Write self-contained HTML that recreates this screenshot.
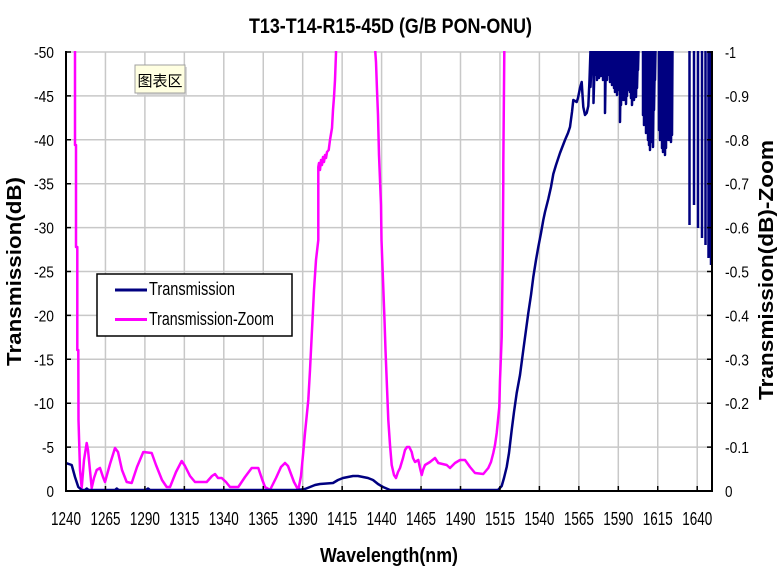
<!DOCTYPE html>
<html><head><meta charset="utf-8"><style>
html,body{margin:0;padding:0;background:#fff;}
svg{display:block;}
text{font-family:"Liberation Sans",Arial,sans-serif;fill:#000;}
</style></head><body>
<svg width="781" height="570" viewBox="0 0 781 570" xmlns="http://www.w3.org/2000/svg">
<defs><clipPath id="pc"><rect x="66" y="51" width="646" height="441"/></clipPath></defs>
<rect width="781" height="570" fill="#fff"/>
<!-- grid -->
<g stroke="#c8c8c8" stroke-width="1.5">
<line x1="105.45" y1="52" x2="105.45" y2="491"/><line x1="144.9" y1="52" x2="144.9" y2="491"/><line x1="184.35" y1="52" x2="184.35" y2="491"/><line x1="223.8" y1="52" x2="223.8" y2="491"/><line x1="263.25" y1="52" x2="263.25" y2="491"/><line x1="302.7" y1="52" x2="302.7" y2="491"/><line x1="342.15" y1="52" x2="342.15" y2="491"/><line x1="381.6" y1="52" x2="381.6" y2="491"/><line x1="421.05" y1="52" x2="421.05" y2="491"/><line x1="460.5" y1="52" x2="460.5" y2="491"/><line x1="499.95" y1="52" x2="499.95" y2="491"/><line x1="539.4" y1="52" x2="539.4" y2="491"/><line x1="578.85" y1="52" x2="578.85" y2="491"/><line x1="618.3" y1="52" x2="618.3" y2="491"/><line x1="657.75" y1="52" x2="657.75" y2="491"/><line x1="697.2" y1="52" x2="697.2" y2="491"/>
<line x1="66" y1="447.1" x2="712" y2="447.1"/><line x1="66" y1="403.2" x2="712" y2="403.2"/><line x1="66" y1="359.3" x2="712" y2="359.3"/><line x1="66" y1="315.4" x2="712" y2="315.4"/><line x1="66" y1="271.5" x2="712" y2="271.5"/><line x1="66" y1="227.6" x2="712" y2="227.6"/><line x1="66" y1="183.7" x2="712" y2="183.7"/><line x1="66" y1="139.8" x2="712" y2="139.8"/><line x1="66" y1="95.9" x2="712" y2="95.9"/><line x1="66" y1="52" x2="712" y2="52"/>
</g>
<g clip-path="url(#pc)" fill="none" stroke-linejoin="round">
<!-- pink -->
<path stroke="#ff00ff" stroke-width="2.5" d="M75,50 L75,145 L76,145 L76,247 L77.3,247 L77.3,350 L78.3,350 L78.5,420 L80,470 L81.7,488 L84,460 L86.7,443 L88,450 L91.7,488 L94,478 L96.7,470 L100,468 L103,477 L105,482 L110,464 L115,448 L118,452 L122,470 L126.7,482 L131.7,483 L137,467 L143.3,452 L151.7,453 L156,465 L162,480 L166.7,487 L170,487 L176,472 L181.7,461 L185,466 L190,476 L195,482 L206.7,482 L212,476 L215,474 L218,478 L221.7,478 L226,482 L230,487 L238.3,487 L245,477 L251.7,468 L258.3,468 L262,479 L265,487 L270,490 L276,478 L281,467 L285,463 L288,466 L294,482 L298.3,490 L301,476 L303,455 L305,433 L308.3,400 L310,370 L312,330 L314,290 L316,260 L318.3,240 L318.3,167 L319,163 L320,170 L321,160 L322,165 L323,157 L324,162 L325,155 L326,158 L327,152 L328.7,150 L330,140 L332,128 L333,110 L334,97 L335,80 L336,53 L336,48"/>
<path stroke="#ff00ff" stroke-width="2.5" d="M375.3,48 L375.3,52 L376,62 L377,90 L378,115 L379,155 L381,205 L381.5,240 L383,280 L384.5,320 L385.5,350 L386.7,380 L388.3,420 L390,445 L391.7,465 L394,475 L396,478 L398,472 L400,468 L403,458 L405,450 L407,447 L409.3,447 L411.7,452 L413,458 L415,462 L418.3,460 L420,468 L421.7,475 L423,470 L425,465 L430,462 L435,458 L438.3,463 L446.7,465 L450,468 L455,463 L460,460 L465,460 L470,467 L475,473 L483.3,474 L488.3,468 L491,462 L493.3,453 L495,445 L496.7,433 L499.3,407 L500,380 L501.7,337 L502.7,258 L503.3,180 L503.3,165 L504.3,52 L504.3,48"/>
<!-- blue -->
<path stroke="#000080" stroke-width="2.5" d="M66,463 L71.7,465 L75,477 L78.3,487 L81.7,490 L85,490 L86.7,488.5 L88.5,490 L115,490 L116.7,488.5 L118.5,490 L146,490 L148,488.5 L150,490 L298,490 L305,489 L310,487 L315,485 L320,484 L333,483 L338,480 L343,478 L348,477 L353,476 L358,476 L363,477 L368,478 L373,480 L378,484 L383,487 L390,490 L498,490 L501.7,486 L504,478 L506.7,467 L509,453 L511.7,430 L514,412 L516.7,393 L520,375 L523.3,350 L526,330 L528.3,313 L531,295 L533.3,277 L536,260 L538.3,247 L541,233 L543.3,220 L545,212 L548.3,199 L551,187 L553.3,174 L556,165 L560,153 L565,140 L568,133 L570,127 L572,112 L573.3,100 L576.7,102 L578,98 L580,88 L581.7,82 L582.5,95 L583.3,107 L585,115 L586.7,113 L588.3,106 L589.5,80
L590.5,50 L590.5,87 L592,50 L592,70 L593.5,50 L593.5,103 L595,50 L595,75 L596,50 L596,65 L597,50 L597,80 L598,50 L598,72 L599,50 L599,78 L600,50 L600,70 L601,50 L601,76 L602,50 L602,68 L603,50 L603,80 L604,50 L604,62 L605,50 L605,113 L606,50 L606,58 L607,50 L607,80 L608,50 L608,75 L609,50 L609,70 L610,50 L610,82 L611,50 L611,60 L612,50 L612,85 L613,50 L613,80 L614,50 L614,88 L615,50 L615,92 L616,50 L616,85 L617,50 L617,95 L618,50 L618,88 L619,50 L619,90 L620,50 L620,122 L621,50 L621,105 L622,50 L622,100 L623,50 L623,95 L624,50 L624,100 L625,50 L625,98 L626,50 L626,104 L627,50 L627,96 L628,50 L628,90 L629,50 L629,60 L630,50 L630,92 L631,50 L631,98 L632,50 L632,105 L633,50 L633,95 L634,50 L634,100 L635,50 L635,92 L636,50 L636,97 L637,50 L637,88 L638,50 L638,70 L638.5,50
M643,50 L643,115 L644,50 L644,125 L645,50 L645,120 L646,50 L646,133 L647,50 L647,128 L648,50 L648,140 L649,50 L649,145 L650,50 L650,150 L651,50 L651,138 L652,50 L652,142 L653,50 L653,147 L654,50 L654,110 L655,50 L655,80 L655.5,50
M659,50 L659,130 L660,50 L660,140 L661,50 L661,135 L662,50 L662,148 L663,50 L663,152 L664,50 L664,145 L665,50 L665,155 L666,50 L666,148 L667,50 L667,140 L668,50 L668,132 L669,50 L669,140 L670,50 L670,138 L671,50 L671,142 L672,50 L672,135 L672.5,50
M689.5,50 L689.5,225 M694,50 L694,205 M698,50 L698,228 M702,50 L702,238 M705.5,50 L705.5,245 M708.5,50 L708.5,258 M711,50 L711,265"/>
</g>
<!-- axes -->
<g stroke="#000" stroke-width="2">
<line x1="66" y1="51" x2="66" y2="492"/>
<line x1="65" y1="491" x2="713" y2="491"/>
<line x1="712" y1="51" x2="712" y2="492"/>
</g>
<g stroke="#000" stroke-width="1.5">
<path d="M66,447.1h5M66,403.2h5M66,359.3h5M66,315.4h5M66,271.5h5M66,227.6h5M66,183.7h5M66,139.8h5M66,95.9h5M66,52h5"/>
<path d="M712,447.1h-5M712,403.2h-5M712,359.3h-5M712,315.4h-5M712,271.5h-5M712,227.6h-5M712,183.7h-5M712,139.8h-5M712,95.9h-5M712,52h-5"/>
<path d="M105.45,491v-5M144.9,491v-5M184.35,491v-5M223.8,491v-5M263.25,491v-5M302.7,491v-5M342.15,491v-5M381.6,491v-5M421.05,491v-5M460.5,491v-5M499.95,491v-5M539.4,491v-5M578.85,491v-5M618.3,491v-5M657.75,491v-5M697.2,491v-5"/>
</g>
<!-- title -->
<text x="249" y="33" font-size="21" font-weight="bold" textLength="283" lengthAdjust="spacingAndGlyphs">T13-T14-R15-45D (G/B PON-ONU)</text>
<!-- left labels -->
<g font-size="16" text-anchor="end">
<text x="54" y="58" textLength="20" lengthAdjust="spacingAndGlyphs">-50</text>
<text x="54" y="101.9" textLength="20" lengthAdjust="spacingAndGlyphs">-45</text>
<text x="54" y="145.8" textLength="20" lengthAdjust="spacingAndGlyphs">-40</text>
<text x="54" y="189.7" textLength="20" lengthAdjust="spacingAndGlyphs">-35</text>
<text x="54" y="233.6" textLength="20" lengthAdjust="spacingAndGlyphs">-30</text>
<text x="54" y="277.5" textLength="20" lengthAdjust="spacingAndGlyphs">-25</text>
<text x="54" y="321.4" textLength="20" lengthAdjust="spacingAndGlyphs">-20</text>
<text x="54" y="365.3" textLength="20" lengthAdjust="spacingAndGlyphs">-15</text>
<text x="54" y="409.2" textLength="20" lengthAdjust="spacingAndGlyphs">-10</text>
<text x="54" y="453.1" textLength="12" lengthAdjust="spacingAndGlyphs">-5</text>
<text x="54" y="497" textLength="7.5" lengthAdjust="spacingAndGlyphs">0</text>
</g>
<!-- right labels -->
<g font-size="16">
<text x="725" y="58" textLength="11" lengthAdjust="spacingAndGlyphs">-1</text>
<text x="725" y="101.9" textLength="24" lengthAdjust="spacingAndGlyphs">-0.9</text>
<text x="725" y="145.8" textLength="24" lengthAdjust="spacingAndGlyphs">-0.8</text>
<text x="725" y="189.7" textLength="24" lengthAdjust="spacingAndGlyphs">-0.7</text>
<text x="725" y="233.6" textLength="24" lengthAdjust="spacingAndGlyphs">-0.6</text>
<text x="725" y="277.5" textLength="24" lengthAdjust="spacingAndGlyphs">-0.5</text>
<text x="725" y="321.4" textLength="24" lengthAdjust="spacingAndGlyphs">-0.4</text>
<text x="725" y="365.3" textLength="24" lengthAdjust="spacingAndGlyphs">-0.3</text>
<text x="725" y="409.2" textLength="24" lengthAdjust="spacingAndGlyphs">-0.2</text>
<text x="725" y="453.1" textLength="24" lengthAdjust="spacingAndGlyphs">-0.1</text>
<text x="725" y="497" textLength="7.5" lengthAdjust="spacingAndGlyphs">0</text>
</g>
<!-- x labels -->
<g font-size="18" text-anchor="middle">
<text x="66" y="525" textLength="30" lengthAdjust="spacingAndGlyphs">1240</text>
<text x="105.45" y="525" textLength="30" lengthAdjust="spacingAndGlyphs">1265</text>
<text x="144.9" y="525" textLength="30" lengthAdjust="spacingAndGlyphs">1290</text>
<text x="184.35" y="525" textLength="30" lengthAdjust="spacingAndGlyphs">1315</text>
<text x="223.8" y="525" textLength="30" lengthAdjust="spacingAndGlyphs">1340</text>
<text x="263.25" y="525" textLength="30" lengthAdjust="spacingAndGlyphs">1365</text>
<text x="302.7" y="525" textLength="30" lengthAdjust="spacingAndGlyphs">1390</text>
<text x="342.15" y="525" textLength="30" lengthAdjust="spacingAndGlyphs">1415</text>
<text x="381.6" y="525" textLength="30" lengthAdjust="spacingAndGlyphs">1440</text>
<text x="421.05" y="525" textLength="30" lengthAdjust="spacingAndGlyphs">1465</text>
<text x="460.5" y="525" textLength="30" lengthAdjust="spacingAndGlyphs">1490</text>
<text x="499.95" y="525" textLength="30" lengthAdjust="spacingAndGlyphs">1515</text>
<text x="539.4" y="525" textLength="30" lengthAdjust="spacingAndGlyphs">1540</text>
<text x="578.85" y="525" textLength="30" lengthAdjust="spacingAndGlyphs">1565</text>
<text x="618.3" y="525" textLength="30" lengthAdjust="spacingAndGlyphs">1590</text>
<text x="657.75" y="525" textLength="30" lengthAdjust="spacingAndGlyphs">1615</text>
<text x="697.2" y="525" textLength="30" lengthAdjust="spacingAndGlyphs">1640</text>
</g>
<!-- axis titles -->
<text x="320" y="562" font-size="20" font-weight="bold" textLength="138" lengthAdjust="spacingAndGlyphs">Wavelength(nm)</text>
<text transform="translate(21,271.5) rotate(-90)" text-anchor="middle" font-size="20" font-weight="bold" textLength="189" lengthAdjust="spacingAndGlyphs">Transmission(dB)</text>
<text transform="translate(773,270) rotate(-90)" text-anchor="middle" font-size="20" font-weight="bold" textLength="260" lengthAdjust="spacingAndGlyphs">Transmission(dB)-Zoom</text>
<!-- legend -->
<rect x="97" y="274" width="195" height="62" fill="#fff" stroke="#000" stroke-width="1.5"/>
<line x1="115" y1="290" x2="147" y2="290" stroke="#000080" stroke-width="3"/>
<line x1="115" y1="319.5" x2="147" y2="319.5" stroke="#ff00ff" stroke-width="3"/>
<text x="149" y="295" font-size="18" textLength="86" lengthAdjust="spacingAndGlyphs">Transmission</text>
<text x="149" y="325" font-size="18" textLength="125" lengthAdjust="spacingAndGlyphs">Transmission-Zoom</text>
<!-- tooltip -->
<rect x="137" y="67" width="50" height="28" fill="#d8d8d8"/>
<rect x="135" y="65" width="50" height="28" fill="#ffffe1" stroke="#a0a0a0" stroke-width="1"/>
<text x="160" y="86" font-size="15" text-anchor="middle" style="font-family:'Liberation Sans','Noto Sans CJK SC',sans-serif">图表区</text>
</svg>
</body></html>
